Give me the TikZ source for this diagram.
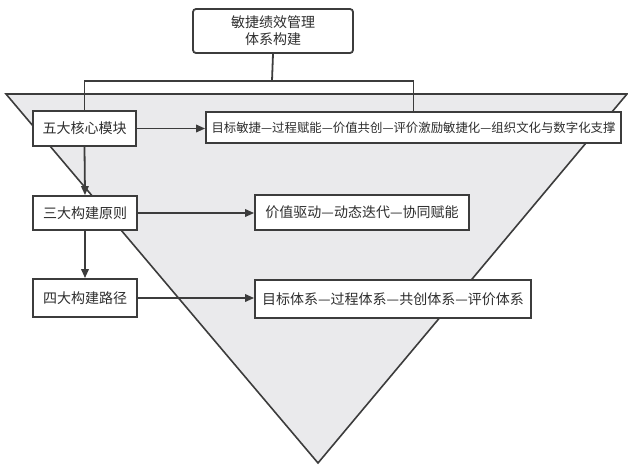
\documentclass[tikz,border=0pt]{standalone}
\usepackage{fontspec}
\setmainfont{Noto Sans CJK SC}
\usetikzlibrary{arrows.meta}
\definecolor{ln}{HTML}{3C3C3C}
\definecolor{tri}{HTML}{EAEAEC}
\tikzset{
  boxn/.style={draw=ln, line width=1.8pt, fill=white, inner sep=0pt, font=\fontsize{14}{17}\selectfont, text=black!82},
  conn/.style={draw=ln, line width=1.8pt},
  arr/.style={conn, -{Triangle[length=9pt,width=7.5pt]}}
}
\begin{document}
\begin{tikzpicture}[x=1pt,y=-1pt]
\useasboundingbox (0,0) rectangle (628,464);
\fill[tri, draw=ln, line width=1.6pt] (6,94) -- (627,94) -- (318,463) -- cycle;
\node[boxn, rounded corners=3pt, minimum width=160pt, minimum height=44pt, align=center] (top) at (273,31) {敏捷绩效管理\\体系构建};
\node[boxn, minimum width=103pt, minimum height=35pt] (wu) at (84.5,128.5) {五大核心模块};
\node[boxn, minimum width=415pt, minimum height=31pt, font=\fontsize{12.4}{15}\selectfont] (long) at (413.5,127.5) {目标敏捷—过程赋能—价值共创—评价激励敏捷化—组织文化与数字化支撑};
\node[boxn, minimum width=104pt, minimum height=34pt] (san) at (85,213) {三大构建原则};
\node[boxn, minimum width=214pt, minimum height=35pt] (val) at (362,212.5) {价值驱动—动态迭代—协同赋能};
\node[boxn, minimum width=104pt, minimum height=38pt] (si) at (85,298) {四大构建路径};
\node[boxn, minimum width=276pt, minimum height=38pt] (tgt) at (393,299) {目标体系—过程体系—共创体系—评价体系};
\coordinate (bar) at (272,81);
\draw[conn] (top.south) -- (bar);
\draw[conn] (bar) -| (wu.north);
\draw[conn] (bar) -| (long.north);
\draw[arr] (wu.east) -- (long.west |- wu.east);
\draw[arr] (wu.south) -- (san.north);
\draw[arr] (san.east) -- (val.west |- san.east);
\draw[arr] (san.south) -- (si.north);
\draw[arr] (si.east) -- (tgt.west |- si.east);
\end{tikzpicture}
\end{document}
